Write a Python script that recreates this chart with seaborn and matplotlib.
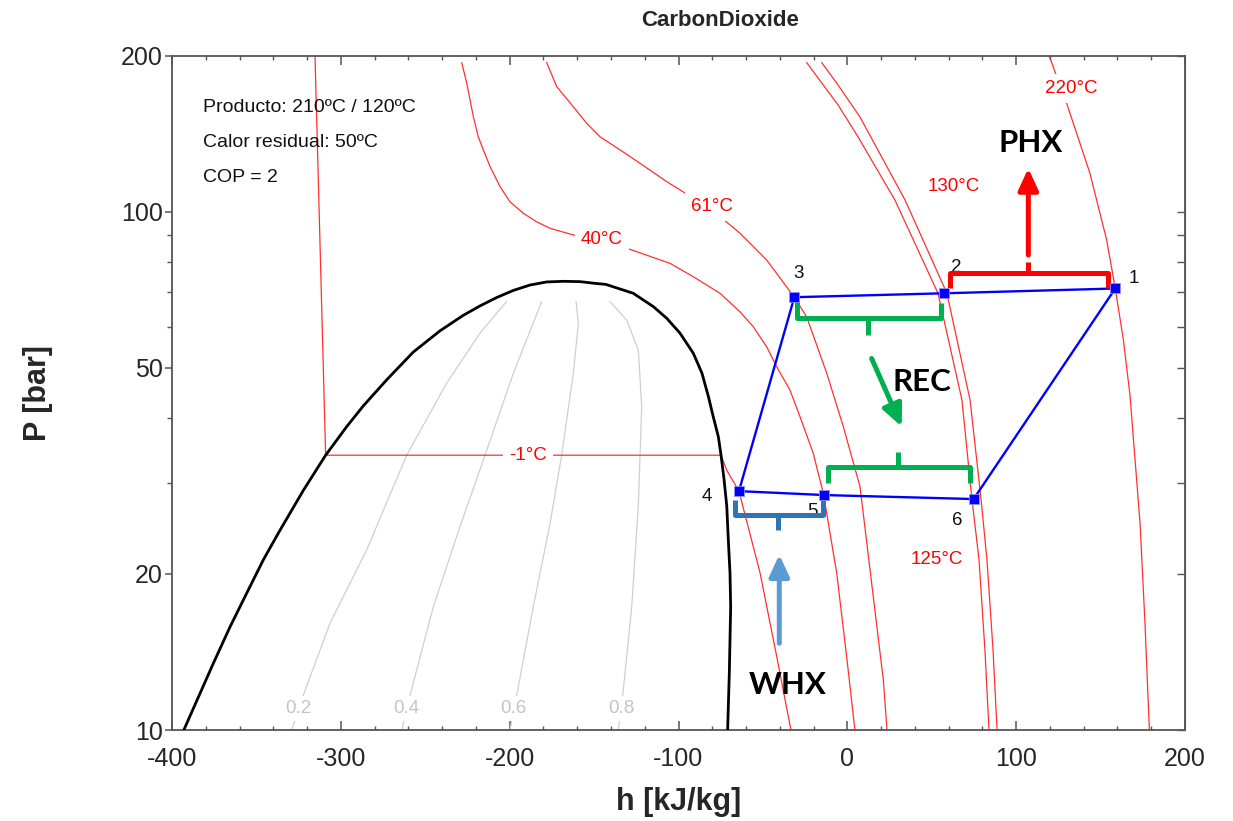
import matplotlib
matplotlib.use("Agg")
import matplotlib.pyplot as plt
import seaborn as sns
from matplotlib.ticker import FixedLocator, MultipleLocator, NullFormatter, FuncFormatter

# cycle state points: enthalpy [kJ/kg], pressure [bar]
cycle_h = [158.7, 57.3, -31.4, -64.2, -13.6, 74.8]
cycle_P = [71.1, 69.6, 68.4, 28.9, 28.4, 27.9]
state_names = ["1", "2", "3", "4", "5", "6"]

# saturation dome
dome_h = [-393.0, -375.5, -365.6, -355.8, -345.9, -336.0, -322.2, -309.0, -296.5, -286.7,
          -272.8, -257.1, -241.3, -227.5, -217.6, -207.7, -197.8, -188.0, -178.1, -168.0,
          -158.3, -150.5, -143.0, -126.8, -114.9, -107.0, -99.1, -91.2, -86.1, -82.3,
          -79.4, -76.4, -74.8, -73.0, -71.4, -70.5, -69.5, -69.1, -69.9, -70.9]
dome_P = [10.0, 13.45, 15.82, 18.35, 21.3, 24.3, 29.0, 33.9, 38.5, 42.2,
          47.4, 53.6, 58.9, 63.1, 65.8, 68.3, 70.5, 72.2, 73.2, 73.4,
          73.3, 72.8, 72.4, 69.6, 65.6, 62.3, 58.3, 53.3, 48.8, 44.0,
          40.2, 36.8, 33.9, 30.4, 27.0, 23.3, 20.1, 17.3, 12.87, 10.0]

# vapour quality lines
x02_h = [-329.1, -322.2, -306.4, -284.7, -261.0, -237.3, -217.6, -201.8]
x02_P = [10.0, 11.68, 16.07, 22.25, 33.9, 46.7, 58.3, 67.1]
x04_h = [-263.9, -259.0, -245.2, -229.4, -214.6, -197.8, -181.0]
x04_P = [10.0, 11.68, 17.3, 24.7, 33.9, 48.8, 67.1]
x06_h = [-199.8, -195.8, -186.0, -176.1, -169.2, -162.3, -159.3, -160.7]
x06_P = [10.0, 11.68, 17.3, 25.0, 33.9, 48.8, 60.9, 67.1]
x08_h = [-135.7, -132.7, -127.7, -123.8, -121.8, -123.8, -130.7, -140.6]
x08_P = [10.0, 11.95, 17.3, 27.0, 42.1, 54.1, 61.8, 67.1]
quality_names = ["0.2", "0.4", "0.6", "0.8"]
quality_label_h = [-325.4, -261.0, -197.8, -133.6]

# isotherms
iso_m1_h = [-315.3, -309.0, -74.8, -71.4, -64.2, -51.7, -41.8, -33.4]
iso_m1_P = [200.0, 33.9, 33.9, 31.7, 28.9, 20.1, 13.85, 10.0]
iso_40_h = [-228.4, -225.4, -221.5, -218.6, -215.6, -211.6, -205.7, -199.8, -191.9, -184.0,
            -176.1, -162.3, -145.5, -128.7, -105.0, -91.2, -75.4, -63.6, -55.7, -47.8,
            -41.8, -34.0, -28.0, -20.2, -14.2, -6.3, -0.4, 4.5]
iso_40_P = [194.0, 176.9, 152.5, 139.5, 131.6, 122.2, 111.8, 104.5, 99.3, 95.6,
            92.9, 90.2, 88.2, 84.6, 79.5, 74.9, 69.6, 64.1, 60.0, 54.9,
            50.2, 45.3, 40.2, 34.2, 28.6, 20.1, 13.85, 10.0]
iso_61_h = [-178.1, -172.1, -162.3, -154.4, -146.5, -134.6, -122.8, -107.0, -94.2, -80.3,
            -73.0, -63.6, -53.7, -47.8, -31.4, -24.1, -12.2, -2.4, 7.5, 21.3, 23.5]
iso_61_P = [194.0, 174.3, 159.4, 148.1, 139.5, 131.6, 124.0, 114.3, 107.7, 102.3,
            96.4, 90.9, 84.4, 80.7, 68.4, 62.7, 48.8, 38.5, 29.5, 12.5, 10.0]
iso_125_h = [-24.1, -5.5, 6.3, 28.2, 53.7, 67.9, 73.8, 78.0, 81.5, 83.9]
iso_125_P = [194.0, 160.7, 139.5, 105.3, 69.6, 43.3, 27.9, 21.3, 14.27, 10.0]
iso_130_h = [-15.2, -5.5, 7.5, 34.2, 59.0, 72.7, 79.2, 82.7, 86.3, 88.7]
iso_130_P = [194.0, 175.6, 152.3, 105.3, 69.6, 43.3, 27.9, 21.3, 14.27, 10.0]
iso_220_h = [119.5, 129.9, 143.7, 153.6, 158.7, 163.5, 167.4, 173.4, 176.3, 178.9]
iso_220_P = [200.0, 161.9, 118.6, 88.2, 71.1, 56.6, 44.3, 25.0, 16.07, 10.0]

iso_names = ["-1°C", "40°C", "61°C", "125°C", "130°C", "220°C"]
iso_label_h = [-189.1, -145.5, -80.3, 52.9, 62.8, 132.9]
iso_label_P = [33.9, 88.2, 102.3, 21.3, 111.8, 173.0]

info_lines = ["Producto: 210ºC / 120ºC", "Calor residual: 50ºC", "COP = 2"]

sns.set_style("white")
plt.rcParams["font.family"] = ["Liberation Sans", "DejaVu Sans"]
plt.rcParams["axes.unicode_minus"] = False


def curve(ax, h, P, color, lw, z=2):
    sns.lineplot(x=h, y=P, sort=False, estimator=None, ax=ax, color=color,
                 linewidth=lw, zorder=z)


def bracket(ax, hl, hr, p_bar, pl, pr, hc, pc, color):
    ax.plot([hl, hl, hr, hr], [pl, p_bar, p_bar, pr], color=color, lw=3.6,
            solid_joinstyle="round", solid_capstyle="butt", zorder=6)
    ax.plot([hc, hc], [p_bar, pc], color=color, lw=3.6, solid_capstyle="butt", zorder=6)


def arrow(ax, h0, p0, h1, p1, color):
    ax.annotate("", xy=(h1, p1), xytext=(h0, p0),
                arrowprops=dict(arrowstyle="-|>,head_length=0.65,head_width=0.3",
                                color=color, lw=3.6, mutation_scale=20,
                                shrinkA=0, shrinkB=0), zorder=6)


fig = plt.figure(figsize=(12.33, 8.21), dpi=100)
ax = fig.add_axes([172 / 1233, 1 - 730 / 821, 1013 / 1233, 674.3 / 821])
ax.set_yscale("log")

# quality lines
for h, P in [(x02_h, x02_P), (x04_h, x04_P), (x06_h, x06_P), (x08_h, x08_P)]:
    curve(ax, h, P, "#cfcfcf", 0.9, z=1)
for name, h in zip(quality_names, quality_label_h):
    ax.text(h, 11.0, name, color="#c4c4c4", fontsize=13.5, ha="center", va="center",
            bbox=dict(facecolor="white", edgecolor="none", pad=3.0), zorder=1.5)

# isotherms
for h, P in [(iso_m1_h, iso_m1_P), (iso_40_h, iso_40_P), (iso_61_h, iso_61_P),
             (iso_125_h, iso_125_P), (iso_130_h, iso_130_P), (iso_220_h, iso_220_P)]:
    curve(ax, h, P, "#ff3030", 0.9, z=2)
for name, h, P in zip(iso_names, iso_label_h, iso_label_P):
    ax.text(h, P, name, color="red", fontsize=13.5, ha="center", va="center",
            bbox=dict(facecolor="white", edgecolor="none", pad=4.5), zorder=2.5)

# dome
curve(ax, dome_h, dome_P, "black", 2.0, z=3)

# cycle
curve(ax, cycle_h + cycle_h[:1], cycle_P + cycle_P[:1], "#0000ff", 1.7, z=4)
sns.scatterplot(x=cycle_h, y=cycle_P, marker="s", s=55, color="#0000ff",
                edgecolor="#9090ff", linewidth=0.6, ax=ax, zorder=7)

label_off = [(10.7, 3.3), (7.1, 8.5), (2.4, 7.7), (-19.1, -0.7), (-6.9, -2.0), (-9.7, -2.5)]
for name, h, P, (dh, dp) in zip(state_names, cycle_h, cycle_P, label_off):
    ax.text(h + dh, P + dp, name, fontsize=13.5, color="#111111", ha="center",
            va="center", zorder=5)

# heat exchanger annotations
bracket(ax, 60.8, 154.6, 76.1, 71.1, 71.1, 107.2, 80.1, "#ff0000")
arrow(ax, 107.2, 82.5, 107.2, 121.3, "#ff0000")
bracket(ax, -30.0, 55.5, 62.3, 67.5, 66.6, 12.4, 57.8, "#00b050")
arrow(ax, 14.4, 52.1, 32.2, 38.5, "#00b050")
bracket(ax, -11.3, 72.7, 32.2, 29.9, 29.9, 30.2, 34.4, "#00b050")
bracket(ax, -66.5, -14.2, 26.0, 27.8, 27.8, -40.9, 24.3, "#2e75b6")
arrow(ax, -40.3, 14.7, -40.3, 21.8, "#5b9bd5")

big = dict(family=["Lato", "DejaVu Sans"], fontweight="bold", fontsize=22.5,
           ha="center", va="center", color="black", zorder=8)
ax.text(108.7, 136.0, "PHX", **big)
ax.text(44.1, 47.0, "REC", **big)
ax.text(-35.4, 12.2, "WHX", **big)

for i, line in enumerate(info_lines):
    ax.text(0.0306, 0.9239 - i * 0.0519, line, transform=ax.transAxes, fontsize=14,
            va="center", ha="left", color="#111111")

# axes
ax.set_xlim(-400, 200)
ax.set_ylim(10, 200)
ax.xaxis.set_major_locator(MultipleLocator(100))
ax.xaxis.set_minor_locator(MultipleLocator(20))
ax.yaxis.set_major_locator(FixedLocator([10, 20, 50, 100, 200]))
ax.yaxis.set_minor_locator(FixedLocator([30, 40, 60, 70, 80, 90]))
ax.yaxis.set_major_formatter(FuncFormatter(lambda v, _: f"{v:g}"))
ax.yaxis.set_minor_formatter(NullFormatter())

ax.tick_params(axis="x", which="both", direction="in", top=True, bottom=True,
               labelsize=18, pad=12, color="#555555")
ax.tick_params(axis="x", which="major", length=6.5, width=1.1)
ax.tick_params(axis="x", which="minor", length=3.2, width=1.0)
ax.tick_params(axis="y", which="both", direction="out", left=True, right=False,
               labelsize=18, pad=1.5, color="#555555")
ax.tick_params(axis="y", which="major", length=5, width=1.1)
ax.tick_params(axis="y", which="minor", length=3.5, width=1.0)

sec = ax.secondary_yaxis("right")
sec.yaxis.set_major_locator(FixedLocator([10, 20, 50, 100, 200]))
sec.yaxis.set_minor_locator(FixedLocator([30, 40, 60, 70, 80, 90]))
sec.tick_params(axis="y", which="both", direction="in", labelright=False,
                length=5.5, width=1.0, color="#555555")
sec.yaxis.set_minor_formatter(NullFormatter())
sec.spines["right"].set_color("#555555")

for sp in ax.spines.values():
    sp.set_color("#555555")
    sp.set_linewidth(1.3)

ax.set_xlabel("h [kJ/kg]", fontsize=22, fontweight="bold")
ax.set_ylabel("P [bar]", fontsize=22, fontweight="bold")
ax.xaxis.set_label_coords(0.5, -0.1063)
ax.xaxis.label.set_va("center")
ax.yaxis.set_label_coords(-0.1323, 0.5)
ax.yaxis.label.set_va("center")

fig.text(720 / 1233, 1 - 20 / 821, "CarbonDioxide", ha="center", va="center",
         fontsize=16, fontweight="bold")

fig.savefig("out.png", dpi=100)
